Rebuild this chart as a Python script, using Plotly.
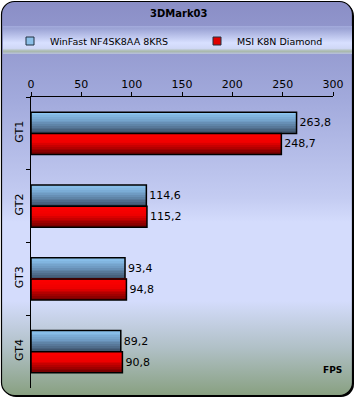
import base64
import plotly.graph_objects as go

categories = ["GT1", "GT2", "GT3", "GT4"]
series_names = ["WinFast NF4SK8AA 8KRS", "MSI K8N Diamond"]
winfast = [263.8, 114.6, 93.4, 89.2]
msi = [248.7, 115.2, 94.8, 90.8]
x_ticks = [0, 50, 100, 150, 200, 250, 300]

FONT = "DejaVu Sans"
W, H = 356, 400
L, R, T, B = 31, 23, 97, 12


def lerp(c1, c2, t):
    return "rgb(%d,%d,%d)" % tuple(round(a + (b - a) * t) for a, b in zip(c1, c2))


def grad(stops, t):
    for (t0, c0), (t1, c1) in zip(stops, stops[1:]):
        if t0 <= t <= t1:
            return lerp(c0, c1, (t - t0) / (t1 - t0) if t1 > t0 else 0)
    return lerp(stops[-1][1], stops[-1][1], 0)


blue_stops = [(0, (144, 202, 246)), (0.45, (112, 156, 196)), (1, (60, 80, 104))]
red_stops = [(0, (255, 0, 0)), (0.45, (240, 0, 0)), (1, (112, 0, 0))]

fig = go.Figure()
BW = 0.29
N = 12
for vals, stops, off0 in [(winfast, blue_stops, -BW), (msi, red_stops, 0.0)]:
    for i in range(N):
        fig.add_trace(go.Bar(
            y=categories, x=vals, orientation="h",
            offset=off0 + i * BW / N, width=BW / N,
            marker=dict(color=grad(stops, (i + 0.5) / N), line=dict(width=0)),
            showlegend=False, hoverinfo="skip"))
    fig.add_trace(go.Bar(
        y=categories, x=vals, orientation="h",
        offset=off0, width=BW,
        marker=dict(color="rgba(0,0,0,0)", line=dict(color="black", width=1.5)),
        text=[("%.1f" % v).replace(".", ",") for v in vals],
        textposition="outside", cliponaxis=False,
        textfont=dict(family=FONT, size=11, color="black"),
        showlegend=False))

for name, col, lg in zip(series_names, ["#8cc0e8", "#e00000"], ["legend", "legend2"]):
    fig.add_trace(go.Scatter(
        x=[None], y=[None], mode="markers", name=name, legend=lg,
        marker=dict(symbol="square", size=8, color=col,
                    line=dict(color="#203040", width=1))))

svg = f'''<svg xmlns="http://www.w3.org/2000/svg" width="{W}" height="{H}" viewBox="0 0 {W} {H}" preserveAspectRatio="none">
<defs>
<linearGradient id="g" x1="0" y1="0" x2="0" y2="1">
<stop offset="0" stop-color="#8a8ec6"/>
<stop offset="0.25" stop-color="#a2aadc"/>
<stop offset="0.5" stop-color="#c4ccf2"/>
<stop offset="0.56" stop-color="#d4dcfc"/>
<stop offset="0.76" stop-color="#d4dcfc"/>
<stop offset="0.88" stop-color="#b0c0c6"/>
<stop offset="1" stop-color="#88a080"/>
</linearGradient>
<linearGradient id="b" x1="0" y1="0" x2="0" y2="1">
<stop offset="0" stop-color="#a4acdc"/>
<stop offset="0.08" stop-color="#9aa2d4"/>
<stop offset="0.6" stop-color="#d8e0ff"/>
<stop offset="0.8" stop-color="#d0d8f6"/>
<stop offset="0.9" stop-color="#a8b8a8"/>
<stop offset="1" stop-color="#b8c0e0"/>
</linearGradient>
</defs>
<rect x="3" y="3" width="351" height="394" rx="13" fill="#000"/>
<rect x="1.5" y="1.5" width="351" height="394" rx="13" fill="url(#g)" stroke="#000" stroke-width="1.2"/>
<rect x="3" y="26" width="349" height="28" fill="url(#b)"/>
</svg>'''
src = "data:image/svg+xml;base64," + base64.b64encode(svg.encode()).decode()

pw = W - L - R
ph = H - T - B


def px(xp):
    return (xp - L) / pw


def py(yp):
    return (ph + T - yp) / ph


fig.add_layout_image(dict(
    source=src, xref="paper", yref="paper",
    x=px(0), y=py(0), sizex=W / pw, sizey=H / ph,
    xanchor="left", yanchor="top", sizing="stretch", layer="below"))

fig.add_annotation(text="<b>3DMark03</b>", xref="paper", yref="paper",
                   x=px(W / 2), y=py(14), showarrow=False,
                   font=dict(family=FONT, size=10, color="black"),
                   xanchor="center", yanchor="middle")
fig.add_annotation(text="<b>FPS</b>", xref="paper", yref="paper",
                   x=px(344), y=py(370), showarrow=False,
                   font=dict(family=FONT, size=9, color="black"),
                   xanchor="right", yanchor="middle")

leg_common = dict(orientation="h", xanchor="left", yanchor="middle",
                  bgcolor="rgba(0,0,0,0)", font=dict(family=FONT, size=9.5),
                  itemclick=False, itemdoubleclick=False)

fig.update_layout(
    width=W, height=H,
    margin=dict(l=L, r=R, t=T, b=B, pad=0, autoexpand=False),
    paper_bgcolor="white", plot_bgcolor="rgba(0,0,0,0)",
    barmode="overlay",
    font=dict(family=FONT, size=11, color="black"),
    legend=dict(x=px(10), y=py(41), **leg_common),
    legend2=dict(x=px(197), y=py(41), **leg_common),
    xaxis=dict(side="top", range=[0, 300], tickvals=x_ticks,
               ticks="outside", ticklen=4, tickcolor="black",
               showline=True, linecolor="black", linewidth=1,
               showgrid=False, zeroline=False,
               tickfont=dict(family=FONT, size=11)),
    yaxis=dict(categoryorder="array", categoryarray=categories,
               autorange="reversed", tickangle=-90,
               ticks="outside", ticklen=4, tickcolor="black",
               tickson="boundaries", ticklabelstandoff=3,
               showline=True, linecolor="black", linewidth=1,
               showgrid=False, zeroline=False,
               tickfont=dict(family=FONT, size=11)),
)

fig.write_html("out.html", config={"displayModeBar": False},
               post_script="document.body.style.margin='0';")
